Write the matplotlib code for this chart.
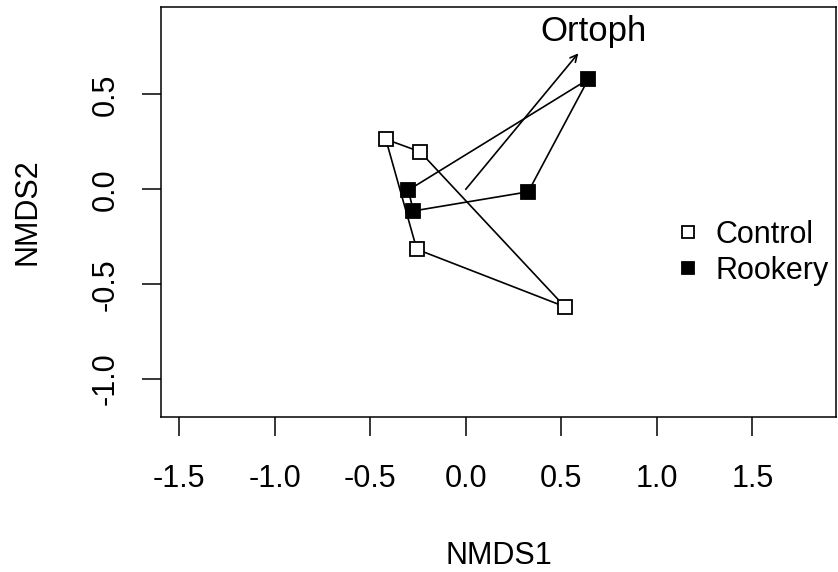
import numpy as np
import matplotlib
matplotlib.use("Agg")
import matplotlib.pyplot as plt

plt.rcParams['font.family'] = ['Liberation Sans', 'DejaVu Sans']

# ---- data (NMDS site scores) ----
control_x = [-0.418, -0.239, 0.519, -0.256]
control_y = [0.264, 0.198, -0.619, -0.316]
rookery_x = [0.641, -0.300, -0.274, 0.327]
rookery_y = [0.580, -0.004, -0.114, -0.013]

# envfit vector
vec_name = "Ortoph"
vec_x, vec_y = 0.589, 0.717
label_x, label_y = 0.666, 0.83

x_ticks = [-1.5, -1.0, -0.5, 0.0, 0.5, 1.0, 1.5]
y_ticks = [-1.0, -0.5, 0.0, 0.5]

FS = 22

fig = plt.figure(figsize=(8.38, 5.72), dpi=100)
ax = fig.add_axes([161 / 838, 1 - 417 / 572, (836 - 161) / 838, (417 - 7) / 572])

# hulls (points are stored in hull order, close the ring)
ax.plot(control_x + control_x[:1], control_y + control_y[:1], color='black', lw=1.2, zorder=2)
ax.plot(rookery_x + rookery_x[:1], rookery_y + rookery_y[:1], color='black', lw=1.2, zorder=2)

# points
ax.plot(control_x, control_y, ls='none', marker='s', ms=10.5, mfc='white', mec='black', mew=1.3, zorder=3)
ax.plot(rookery_x, rookery_y, ls='none', marker='s', ms=10.5, mfc='black', mec='black', mew=1.3, zorder=3)

# vector arrow
ax.annotate("", xy=(vec_x, vec_y), xytext=(0, 0),
            arrowprops=dict(arrowstyle='->,head_length=0.5,head_width=0.25', color='black', lw=1.2,
                            shrinkA=0, shrinkB=0))
ax.text(label_x, label_y, vec_name, fontsize=25, ha='center', va='center')

ax.set_xlim(-1.594, 1.937)
ax.set_ylim(-1.200, 0.961)
ax.set_xticks(x_ticks)
ax.set_xticklabels([f"{v:.1f}" for v in x_ticks])
ax.set_yticks(y_ticks)
ax.set_yticklabels([f"{v:.1f}" for v in y_ticks], rotation=90, va='center')
ax.tick_params(direction='out', length=13.5, width=1.1, labelsize=FS)
ax.tick_params(axis='x', pad=20)
ax.tick_params(axis='y', pad=15.5)
for s in ax.spines.values():
    s.set_linewidth(1.1)

ax.set_xlabel("NMDS1", fontsize=FS, labelpad=34)
ax.set_ylabel("NMDS2", fontsize=FS, labelpad=35)

# legend (no box, as in R bty="n")
h1, = ax.plot([], [], ls='none', marker='s', ms=9, mfc='white', mec='black', mew=1.3)
h2, = ax.plot([], [], ls='none', marker='s', ms=9, mfc='black', mec='black', mew=1.3)
ax.legend([h1, h2], ["Control", "Rookery"], loc='center left', bbox_to_anchor=(0.745, 0.40),
          frameon=False, fontsize=FS, handlelength=0.8, handletextpad=0.5, labelspacing=0.2,
          borderaxespad=0)

fig.savefig("out.png", dpi=100)
